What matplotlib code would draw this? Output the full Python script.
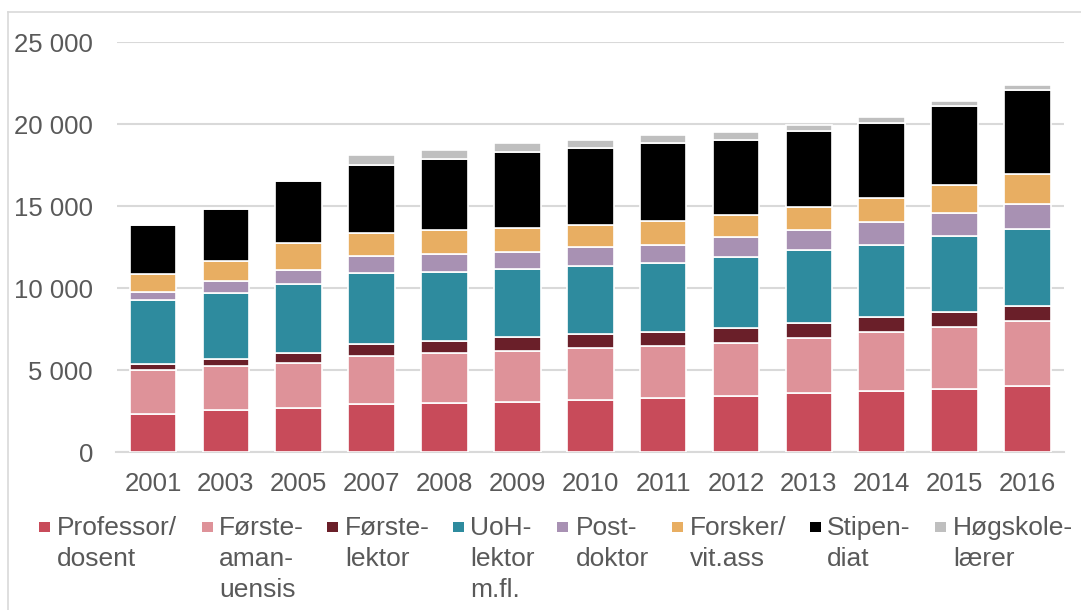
import numpy as np
import matplotlib
matplotlib.use("Agg")
import matplotlib.pyplot as plt
from matplotlib.patches import Rectangle
from matplotlib.lines import Line2D
from matplotlib.ticker import FuncFormatter

plt.rcParams['font.family'] = ['Liberation Sans', 'DejaVu Sans']

years = ['2001', '2003', '2005', '2007', '2008', '2009', '2010',
         '2011', '2012', '2013', '2014', '2015', '2016']

professor = [2310, 2590, 2710, 2920, 3000, 3060, 3200, 3320, 3420, 3620, 3740, 3870, 4010]
forsteamanuensis = [2690, 2640, 2760, 2950, 3020, 3100, 3160, 3140, 3270, 3370, 3570, 3750, 3990]
forstelektor = [390, 460, 610, 730, 790, 850, 830, 850, 870, 910, 930, 930, 910]
uoh_lektor = [3910, 4040, 4150, 4340, 4200, 4130, 4180, 4240, 4330, 4400, 4420, 4600, 4710]
postdoktor = [470, 730, 900, 1040, 1070, 1040, 1110, 1110, 1200, 1220, 1360, 1420, 1500]
forsker = [1110, 1210, 1600, 1400, 1480, 1460, 1340, 1440, 1360, 1440, 1460, 1700, 1820]
stipendiat = [2940, 3160, 3810, 4110, 4320, 4640, 4740, 4750, 4600, 4620, 4580, 4800, 5110]
hogskolelaerer = [0, 0, 0, 630, 560, 540, 490, 480, 480, 360, 340, 350, 320]

labels = ['Professor/\ndosent', 'Første-\naman-\nuensis', 'Første-\nlektor',
          'UoH-\nlektor\nm.fl.', 'Post-\ndoktor', 'Forsker/\nvit.ass',
          'Stipen-\ndiat', 'Høgskole-\nlærer']
colors = ['#C84B5A', '#DE9299', '#6A1F29', '#2E8B9E', '#A891B3', '#E8AE62',
          '#000000', '#BFBFBF']
series = [professor, forsteamanuensis, forstelektor, uoh_lektor,
          postdoktor, forsker, stipendiat, hogskolelaerer]

W, H = 1081, 610
fig = plt.figure(figsize=(W / 100, H / 100), dpi=100)
ax = fig.add_axes([116.5 / W, 1 - 452.3 / H, (1064 - 116.5) / W, (452.3 - 42) / H])

x = np.arange(len(years))
bottom = np.zeros(len(years))
for vals, col in zip(series, colors):
    vals = np.array(vals, dtype=float)
    ax.bar(x, vals, width=0.64, bottom=bottom, color=col,
           edgecolor='white', linewidth=1.2, zorder=3)
    bottom += vals

ax.set_xlim(-0.5, len(years) - 0.5)
ax.set_ylim(0, 25000)
ax.set_yticks(np.arange(0, 25001, 5000))
ax.yaxis.set_major_formatter(FuncFormatter(lambda v, p: f"{int(v):,}".replace(",", " ")))
ax.set_xticks(x)
ax.set_xticklabels(years)

ax.grid(axis='y', color='#D9D9D9', linewidth=1.5, zorder=0)
for s in ['top', 'right', 'left']:
    ax.spines[s].set_visible(False)
ax.spines['bottom'].set_color('#D9D9D9')
ax.spines['bottom'].set_linewidth(1.5)
ax.tick_params(axis='both', length=0, labelsize=18.5, labelcolor='#595959')
ax.tick_params(axis='y', pad=17)
ax.tick_params(axis='x', pad=14)

# outer frame (only left and top visible)
fig.add_artist(Line2D([8 / W, 8 / W], [0, 1 - 12 / H], transform=fig.transFigure,
                      color='#D9D9D9', linewidth=1.2))
fig.add_artist(Line2D([8 / W, 1], [1 - 12 / H, 1 - 12 / H], transform=fig.transFigure,
                      color='#D9D9D9', linewidth=1.2))

# legend
marker_x = [39, 201.7, 327, 453, 557, 672, 810, 935]
text_x = [57, 219.3, 345, 470, 576, 690, 827, 953]
for mx, tx, lab, col in zip(marker_x, text_x, labels, colors):
    fig.add_artist(Rectangle((mx / W, 1 - 532 / H), 11 / W, 10.5 / H,
                             transform=fig.transFigure, facecolor=col, edgecolor='none'))
    fig.text(tx / W, 1 - 516 / H, lab, ha='left', va='top', fontsize=19,
             color='#595959', linespacing=1.38)

fig.savefig('out.png', dpi=100)
